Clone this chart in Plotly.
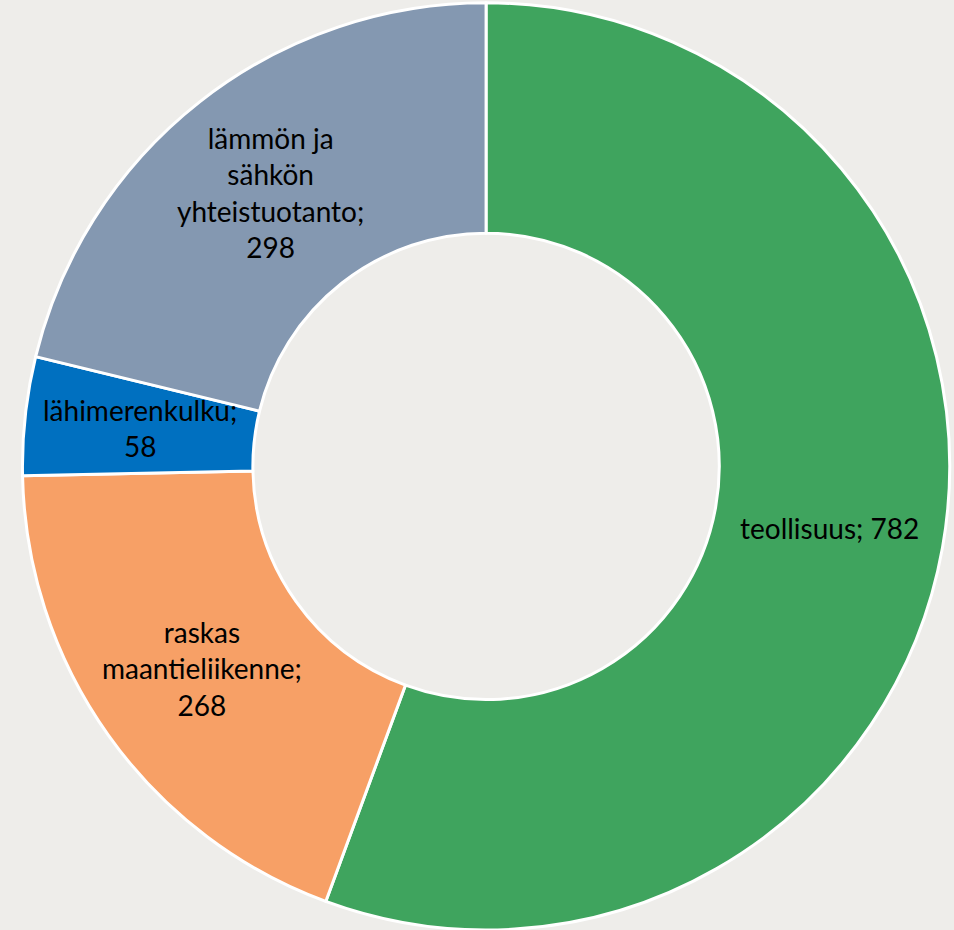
import math
import plotly.graph_objects as go

labels = ["teollisuus", "raskas maantieliikenne", "lähimerenkulku", "lämmön ja sähkön yhteistuotanto"]
values = [782, 268, 58, 298]
label_lines = [["teollisuus;"], ["raskas", "maantieliikenne;"], ["lähimerenkulku;"],
               ["lämmön ja", "sähkön", "yhteistuotanto;"]]
colors = ["#3FA45E", "#F7A066", "#0070C0", "#8498B1"]

W, H = 954, 930
dom_x = [0.019, 1.0]
dom_y = [0.0, 0.997]
hole = 0.503

fig = go.Figure(go.Pie(
    labels=labels, values=values,
    textinfo="none",
    sort=False, direction="clockwise", rotation=0, hole=hole,
    marker=dict(colors=colors, line=dict(color="white", width=3)),
    domain=dict(x=dom_x, y=dom_y),
    showlegend=False, hoverinfo="label+value",
))

# label positions derived from slice mid-angles
cx = (dom_x[0] + dom_x[1]) / 2 * W
cy = (1 - (dom_y[0] + dom_y[1]) / 2) * H
r_out = min((dom_x[1] - dom_x[0]) * W, (dom_y[1] - dom_y[0]) * H) / 2
r_mid = r_out * (1 + hole) / 2
total = sum(values)
cum = 0
for v, lines in zip(values, label_lines):
    mid = (cum + v / 2) / total * 2 * math.pi
    cum += v
    px = cx + r_mid * math.sin(mid)
    py = cy - r_mid * math.cos(mid)
    if len(lines) == 1 and lines[0] == "teollisuus;":
        txt = f"{lines[0]} {v}"
    else:
        txt = "<br>".join(lines + [str(v)])
    fig.add_annotation(x=px / W, y=1 - py / H, xref="paper", yref="paper",
                       text=txt, showarrow=False, xanchor="center", yanchor="middle",
                       font=dict(family="Lato, Open Sans, sans-serif", size=28, color="black"))

fig.update_layout(
    width=W, height=H,
    margin=dict(l=0, r=0, t=0, b=0),
    paper_bgcolor="#EEEDEA", plot_bgcolor="#EEEDEA",
)
fig.write_html("out.html")
